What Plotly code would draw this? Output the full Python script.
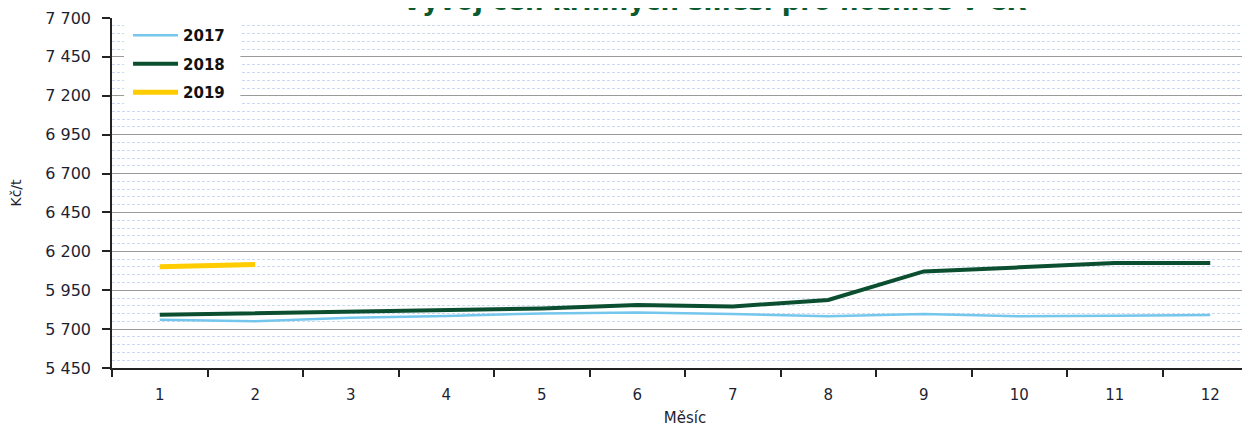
import plotly.graph_objects as go

months = list(range(1, 13))
price_2017 = [5760, 5751, 5773, 5784, 5801, 5807, 5797, 5782, 5797, 5782, 5786, 5790]
price_2018 = [5792, 5803, 5815, 5824, 5833, 5855, 5846, 5887, 6071, 6097, 6125, 6125]
price_2019 = [6101, 6116]

FONT = "DejaVu Sans"

fig = go.Figure()
fig.add_trace(go.Scatter(x=months, y=price_2017, name="<b>2017</b>", mode="lines",
                         line=dict(color="#74c6ec", width=2.5), legendgroup="a"))
fig.add_trace(go.Scatter(x=months, y=price_2018, name="<b>2018</b>", mode="lines",
                         line=dict(color="#0b4f30", width=4), legendgroup="b"))
fig.add_trace(go.Scatter(x=months[:2], y=price_2019, name="<b>2019</b>", mode="lines",
                         line=dict(color="#ffcc00", width=5), legendgroup="c"))

# white box behind the legend so the grid does not show through it
fig.add_shape(type="rect", xref="paper", yref="y", layer="above",
              x0=0.0105, x1=0.112, y0=7125, y1=7694,
              fillcolor="white", line=dict(width=0))

fig.update_layout(
    width=1250, height=425,
    margin=dict(l=104, r=0, t=10, b=65),
    paper_bgcolor="white", plot_bgcolor="white",
    separators=", ",
    font=dict(family=FONT, size=15, color="#1f1f33"),
    showlegend=True,
    legend=dict(x=0.014, y=0.997, xanchor="left", yanchor="top",
                bgcolor="rgba(0,0,0,0)", font=dict(size=15, color="#111"),
                traceorder="grouped", tracegroupgap=6,
                itemwidth=45, borderwidth=0),
    annotations=[dict(text="<b>Vývoj cen krmných směsí pro nosnice v ČR</b>",
                      xref="paper", yref="paper", x=0.526, y=0.999,
                      xanchor="center", yanchor="bottom", showarrow=False,
                      font=dict(size=26, color="#0b5a2e", family=FONT))],
)

fig.update_xaxes(
    range=[0.5, 12.5], tickvals=months, ticks="", showgrid=False,
    showline=True, linecolor="#222", linewidth=1.5, automargin=False,
    tickfont=dict(size=15), zeroline=False, ticklabelstandoff=12,
    minor=dict(tick0=0.5, dtick=1, ticks="outside", ticklen=7,
               tickcolor="#222", tickwidth=1.5, showgrid=False),
    title=dict(text="Měsíc", font=dict(size=15), standoff=10),
)
fig.update_yaxes(
    range=[5450, 7700], tick0=5450, dtick=250, tickformat=",d",
    ticks="outside", ticklen=8, tickcolor="#222", tickwidth=1.5,
    showline=True, linecolor="#222", linewidth=1.5, automargin=False,
    showgrid=True, gridcolor="#9a9a9a", gridwidth=1, zeroline=False,
    tickfont=dict(size=16), ticklabelstandoff=8,
    minor=dict(dtick=50, showgrid=True, gridcolor="#cdd8f3",
               griddash="3px,2px", gridwidth=1, ticks=""),
    title=dict(text="Kč/t", font=dict(size=14), standoff=20),
)

fig.write_html("out.html")
